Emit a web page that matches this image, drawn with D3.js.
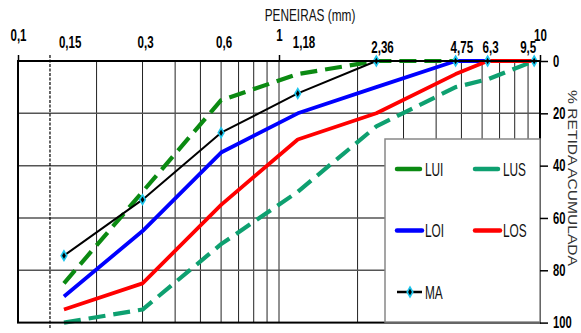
<!DOCTYPE html>
<html>
<head>
<meta charset="utf-8">
<script src="https://cdn.jsdelivr.net/npm/d3@7"></script>
<style>
  body { margin: 0; background: #fff; }
  svg { font-family: "Liberation Sans", Arial, sans-serif; }
</style>
</head>
<body>
<svg id="chart" width="581" height="333"></svg>
<script>
// sieve openings (mm) and % retained accumulated
const peneiras = [0.15, 0.3, 0.6, 1.18, 2.36, 4.75, 6.3, 9.5];
const rotulosPeneiras = ['0,15', '0,3', '0,6', '1,18', '2,36', '4,75', '6,3', '9,5'];
const LUI = [85, 50, 15, 5, 0, 0, 0, 0];
const LUS = [100, 95, 70, 50, 25, 10, 7, 0];
const LOI = [90, 65, 35, 20, 10, 0, 0, 0];
const LOS = [95, 85, 55, 30, 20, 5, 0, 0];
const MA = [74.4, 53, 27.4, 12.4, 0, 0, 0, 0];
const ticksTopo = [0.1, 1, 10];
const rotulosTopo = ['0,1', '1', '10'];
const ticksY = [0, 20, 40, 60, 80, 100];
const linhaTracejada = [0.1326];

const svg = d3.select('#chart');

const xScale = d3.scaleLog()
    .domain([0.1, 10])
    .range([18, 540]);

const yScale = d3.scaleLinear()
    .domain([0, 100])
    .range([61, 322.6]);

// squeeze text horizontally around its anchor (narrow font look)
function squeeze(sel, k) {
    sel.each(function() {
        const t = d3.select(this);
        const x = +t.attr('x') || 0, y = +t.attr('y') || 0;
        t.attr('transform', `translate(${x},${y}) scale(${k},1) translate(${-x},${-y})`);
    });
}

// grid
svg.append('g')
    .selectAll('line')
    .data(xScale.ticks())
    .enter()
    .append('line')
    .attr('x1', d => xScale(d))
    .attr('x2', d => xScale(d))
    .attr('y1', yScale(0))
    .attr('y2', yScale(100))
    .attr('stroke', '#222')
    .attr('stroke-width', 1);

svg.append('g')
    .selectAll('line')
    .data([20, 40, 60, 80])
    .enter()
    .append('line')
    .attr('x1', xScale(0.1))
    .attr('x2', xScale(10))
    .attr('y1', d => yScale(d))
    .attr('y2', d => yScale(d))
    .attr('stroke', '#555')
    .attr('stroke-width', 1.5);

svg.append('g')
    .selectAll('line')
    .data(linhaTracejada)
    .enter()
    .append('line')
    .attr('x1', d => xScale(d))
    .attr('x2', d => xScale(d))
    .attr('y1', yScale(0) - 6)
    .attr('y2', yScale(100) + 6)
    .attr('stroke', '#000')
    .attr('stroke-width', 1.2)
    .attr('stroke-dasharray', '3,1.5');

// series
const series = [
    {nome: 'LUI', valores: LUI, cor: '#0b8a12', larg: 4.2, dash: '17,8'},
    {nome: 'LUS', valores: LUS, cor: '#0ea070', larg: 4.2, dash: '17,8'},
    {nome: 'LOI', valores: LOI, cor: '#0000ff', larg: 3.8, dash: null},
    {nome: 'LOS', valores: LOS, cor: '#ff0000', larg: 3.8, dash: null},
    {nome: 'MA', valores: MA, cor: '#000', larg: 2, dash: null}
];

const linha = d3.line()
    .x((d, i) => xScale(peneiras[i]))
    .y(d => yScale(d));

svg.append('g')
    .selectAll('path')
    .data(series)
    .enter()
    .append('path')
    .attr('d', d => linha(d.valores))
    .attr('fill', 'none')
    .attr('stroke', d => d.cor)
    .attr('stroke-width', d => d.larg)
    .attr('stroke-dasharray', d => d.dash)
    .attr('stroke-linejoin', 'round');

const diamanteFora = d3.symbol().type(d3.symbolDiamond).size(48);
const diamanteDentro = d3.symbol().type(d3.symbolDiamond).size(12);

const marcas = svg.append('g')
    .selectAll('g')
    .data(MA)
    .enter()
    .append('g')
    .attr('transform', (d, i) => `translate(${xScale(peneiras[i])},${yScale(d)})`);
marcas.append('path').attr('d', diamanteFora).attr('fill', '#1cc6ee');
marcas.append('path').attr('d', diamanteDentro).attr('fill', '#000');

// border
svg.append('rect')
    .attr('x', xScale(0.1))
    .attr('y', yScale(0))
    .attr('width', xScale(10) - xScale(0.1))
    .attr('height', yScale(100) - yScale(0))
    .attr('fill', 'none')
    .attr('stroke', '#000')
    .attr('stroke-width', 2);

// legend
const leg = svg.append('g');
leg.append('rect')
    .attr('x', 385).attr('y', 139)
    .attr('width', 155).attr('height', 183)
    .attr('fill', '#fff')
    .attr('stroke', '#888')
    .attr('stroke-width', 1.5);

const legItens = leg.selectAll('g.item')
    .data(series)
    .enter()
    .append('g')
    .attr('class', 'item')
    .attr('transform', (d, i) => `translate(${397 + (i % 2) * 78},${169 + Math.floor(i / 2) * 61.5})`);

legItens.append('line')
    .attr('x1', 0).attr('x2', d => d.nome === 'LUI' || d.nome === 'LUS' ? 23 : 25)
    .attr('stroke', d => d.cor)
    .attr('stroke-width', d => d.nome === 'MA' ? 2.5 : 4.5)
    .attr('stroke-linecap', d => d.nome === 'MA' ? 'butt' : 'round');

legItens.filter(d => d.nome === 'MA')
    .append('path').attr('d', diamanteFora).attr('fill', '#1cc6ee')
    .attr('transform', 'translate(13,0)');
legItens.filter(d => d.nome === 'MA')
    .append('path').attr('d', diamanteDentro).attr('fill', '#000')
    .attr('transform', 'translate(13,0)');

legItens.append('text')
    .attr('x', 28)
    .attr('y', 6.5)
    .attr('font-size', 18.5)
    .attr('fill', '#111')
    .text(d => d.nome)
    .call(squeeze, 0.64);

// top axis
const eixoTopo = svg.append('g')
    .attr('transform', `translate(0,${yScale(0)})`)
    .call(d3.axisTop(xScale)
        .tickValues(ticksTopo)
        .tickFormat((d, i) => rotulosTopo[i])
        .tickSize(6)
        .tickSizeOuter(0)
        .tickPadding(14));
eixoTopo.select('.domain').remove();
eixoTopo.selectAll('line').attr('stroke', '#000').attr('stroke-width', 1.5);
eixoTopo.selectAll('text')
    .attr('font-size', 16.5)
    .attr('font-weight', 'bold')
    .attr('fill', '#000')
    .call(squeeze, 0.7);

// sieve labels
svg.append('g')
    .selectAll('text')
    .data(peneiras)
    .enter()
    .append('text')
    .attr('x', (d, i) => i === peneiras.length - 1 ? xScale(d) + 2 : xScale(d) - 5)
    .attr('y', d => d < 2 ? 48.5 : 53.5)
    .attr('text-anchor', (d, i) => i === peneiras.length - 1 ? 'end' : 'start')
    .attr('font-size', 16.5)
    .attr('font-weight', 'bold')
    .attr('fill', '#000')
    .text((d, i) => rotulosPeneiras[i])
    .call(squeeze, 0.7);

// right axis
const eixoY = svg.append('g')
    .attr('transform', `translate(${xScale(10)},0)`)
    .call(d3.axisRight(yScale)
        .tickValues(ticksY)
        .tickSize(8)
        .tickSizeOuter(0)
        .tickPadding(5));
eixoY.select('.domain').remove();
eixoY.selectAll('line').attr('stroke', '#000').attr('stroke-width', 1.5);
eixoY.selectAll('text')
    .attr('font-size', 16)
    .attr('font-weight', 'bold')
    .attr('fill', '#000')
    .call(squeeze, 0.7);

// titles
svg.append('text')
    .attr('x', 310)
    .attr('y', 21)
    .attr('text-anchor', 'middle')
    .attr('font-size', 16)
    .attr('fill', '#111')
    .text('PENEIRAS (mm)')
    .call(squeeze, 0.74);

svg.append('text')
    .attr('transform', 'translate(568,178) rotate(90)')
    .attr('text-anchor', 'middle')
    .attr('font-size', 13.5)
    .attr('fill', '#333')
    .attr('textLength', 176)
    .attr('lengthAdjust', 'spacingAndGlyphs')
    .text('% RETIDA ACUMULADA');
</script>
</body>
</html>
